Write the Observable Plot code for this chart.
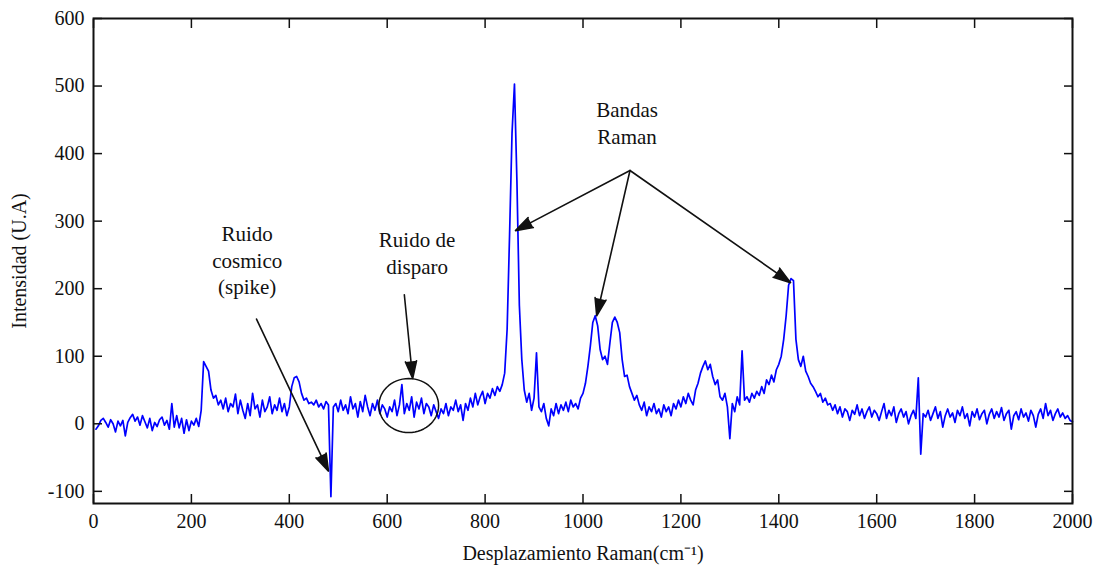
<!DOCTYPE html>
<html><head><meta charset="utf-8">
<script src="https://cdn.jsdelivr.net/npm/d3@7"></script>
<script src="https://cdn.jsdelivr.net/npm/@observablehq/plot@0.6"></script>
<style>body{margin:0;background:#fff;} #chart svg{display:block;} #chart svg text{font-family:'Liberation Serif', serif;}</style>
</head><body><div id="chart"></div>
<script>
// Raman shift sampling grid (cm^-1): 5, 10, ..., 2000
const shiftStart = 5, shiftStep = 5;
// Intensity (U.A), one row per 100 cm^-1
const intensity = [
  -8,-3,5,8,2,-5,6,0,-12,4,-3,5,-18,2,9,14,4,10,-2,12,
  3,-6,8,-10,2,-4,6,10,-2,5,-8,30,-5,12,-6,8,-14,6,-10,4,
  -2,8,-4,20,92,85,78,50,38,42,28,35,22,38,18,30,25,44,15,35,
  20,8,30,12,45,22,28,10,35,18,25,40,15,28,20,38,18,30,12,25,
  55,68,70,62,45,35,38,30,32,28,35,25,30,22,33,28,-108,25,30,18,
  35,20,28,15,40,22,30,10,33,18,42,25,12,30,20,35,15,28,22,10,
  25,18,35,12,28,58,15,30,20,40,10,32,22,38,15,30,25,12,28,18,
  8,22,15,30,12,25,20,35,18,28,5,30,20,38,25,45,28,40,48,30,
  45,38,52,42,55,48,58,75,140,280,430,503,360,175,95,50,32,45,20,38,
  105,25,18,30,8,-3,22,12,30,15,28,20,32,18,35,25,30,22,38,45,
  60,85,115,150,160,145,110,95,100,88,120,150,158,150,135,95,70,72,55,45,
  35,42,28,20,32,12,25,18,30,15,22,10,28,18,25,12,30,22,35,25,
  40,30,45,35,28,50,60,75,85,93,80,88,70,58,65,40,35,45,25,-22,
  30,18,40,28,108,35,40,32,45,38,48,42,55,45,65,58,72,62,80,88,
  100,125,160,205,215,212,125,95,85,100,78,70,60,55,48,40,45,32,38,28,
  30,20,28,15,25,10,22,18,5,20,14,28,12,22,8,18,25,10,20,15,
  5,18,30,8,20,12,25,2,15,22,10,18,0,12,20,8,68,-45,15,10,
  20,5,15,25,8,18,-5,12,22,10,16,2,20,12,25,8,15,-3,18,10,
  22,6,15,20,0,14,22,8,18,10,24,5,15,20,-8,12,18,6,22,10,
  16,4,20,12,-5,14,22,8,30,12,20,5,15,22,10,16,8,12,5,3
];
const xTicks = [0,200,400,600,800,1000,1200,1400,1600,1800,2000];
const yTicks = [-100,0,100,200,300,400,500,600];
const xLabel = "Desplazamiento Raman(cm\u207B\u00B9)";
const yLabel = "Intensidad (U.A)";

// Annotations (data units)
const noteTexts = ["Ruido\ncosmico\n(spike)", "Ruido de\ndisparo", "Bandas\nRaman"];
const noteX = [314, 661, 1090];
const noteY = [244, 254, 447];
const arrowX1 = [333, 635, 1096, 1096, 1096];
const arrowY1 = [155, 191, 375, 375, 375];
const arrowX2 = [480, 652, 862, 1028, 1424];
const arrowY2 = [-70, 67, 286, 160, 209];
const ellipseC = [644, 27];
const ellipseR = [61, 40];

const spectrum = intensity.map((v, i) => ({shift: shiftStart + i * shiftStep, value: v}));
const notes = noteTexts.map((t, i) => ({text: t, x: noteX[i], y: noteY[i]}));
const arrows = arrowX1.map((x1, i) => ({x1, y1: arrowY1[i], x2: arrowX2[i], y2: arrowY2[i]}));
const ellipsePts = d3.range(0, 361, 6).map(a => ({
  x: ellipseC[0] + ellipseR[0] * Math.cos(a * Math.PI / 180),
  y: ellipseC[1] + ellipseR[1] * Math.sin(a * Math.PI / 180)
}));

const ink = "#111";
const serif = "'Liberation Serif', serif";
const chart = Plot.plot({
  width: 1099, height: 566,
  marginLeft: 93, marginRight: 27, marginTop: 18, marginBottom: 63,
  style: {fontFamily: serif, fontSize: "20px", color: ink, background: "#fff"},
  x: {domain: [0, 2000]},
  y: {domain: [-118, 600]},
  marks: [
    Plot.line(spectrum, {x: "shift", y: "value", stroke: "#0000ff", strokeWidth: 1.7}),
    Plot.line(ellipsePts, {x: "x", y: "y", stroke: ink, strokeWidth: 1.5}),
    Plot.arrow(arrows, {x1: "x1", y1: "y1", x2: "x2", y2: "y2", stroke: ink, fill: ink, strokeWidth: 1.6, headLength: 17, headAngle: 36}),
    Plot.text(notes, {x: "x", y: "y", text: "text", fontSize: 21, fontFamily: serif, lineHeight: 1.27, fill: ink}),
    Plot.frame({stroke: ink, strokeWidth: 2}),
    Plot.axisX({ticks: xTicks, tickSize: 0, tickPadding: 10, fontFamily: serif, tickFormat: d => String(d), label: xLabel, labelAnchor: "center", labelOffset: 56, labelArrow: "none"}),
    Plot.axisY({ticks: yTicks, tickSize: 0, tickPadding: 9, fontFamily: serif, tickFormat: d => String(d), label: yLabel, labelAnchor: "center", labelOffset: 82, labelArrow: "none"}),
    Plot.axisX({ticks: xTicks, tickSize: -9, fill: "none", label: null, strokeWidth: 1.5}),
    Plot.axisX({ticks: xTicks, anchor: "top", tickSize: -9, fill: "none", label: null, strokeWidth: 1.5}),
    Plot.axisY({ticks: yTicks, tickSize: -9, fill: "none", label: null, strokeWidth: 1.5}),
    Plot.axisY({ticks: yTicks, anchor: "right", tickSize: -9, fill: "none", label: null, strokeWidth: 1.5})
  ]
});
document.getElementById("chart").append(chart);
</script>
</body></html>
